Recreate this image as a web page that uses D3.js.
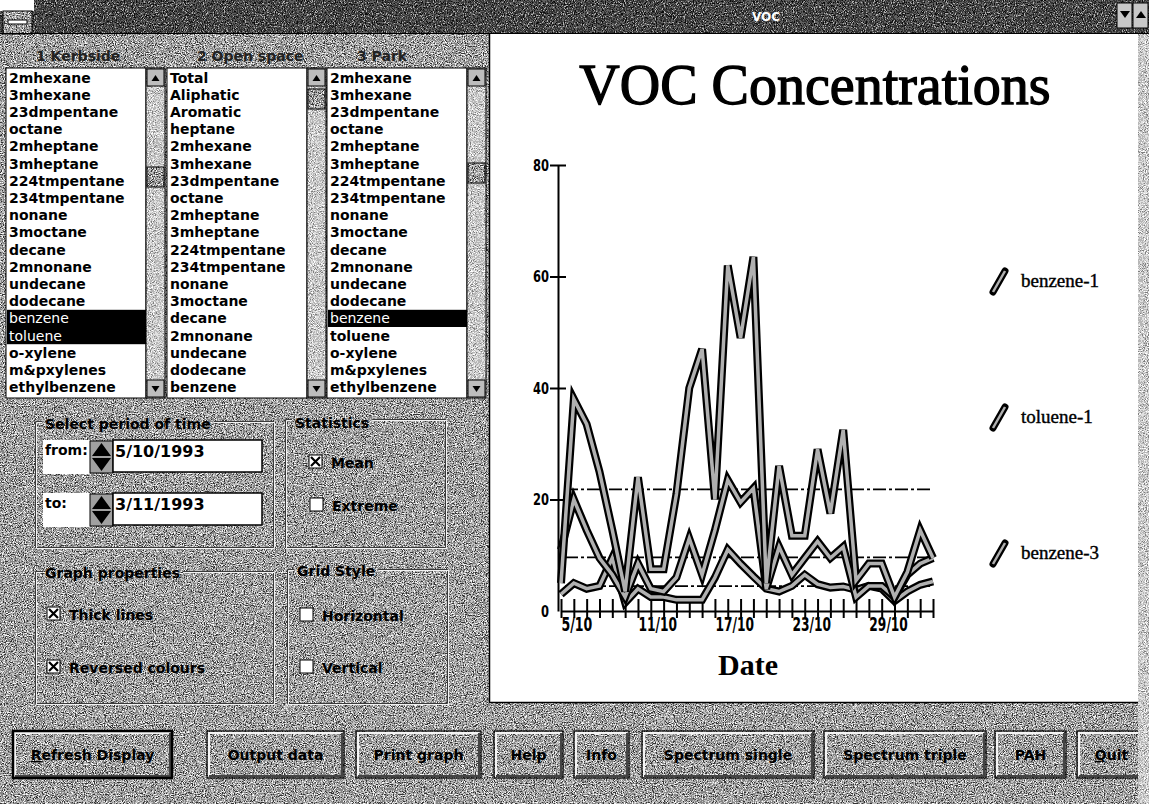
<!DOCTYPE html>
<html>
<head>
<meta charset="utf-8">
<script src="https://cdn.jsdelivr.net/npm/d3@7"></script>
<style>
  html, body { margin: 0; padding: 0; background: #a4a4a4; overflow: hidden; }
  svg { display: block; }
  .ui { font-family: "DejaVu Sans", sans-serif; font-weight: bold; font-size: 14px; fill: #000; }
</style>
</head>
<body>
<svg id="win" width="1149" height="804"></svg>
<script>
// ---- data ----
const dates = ["5/10","6/10","7/10","8/10","9/10","10/10","11/10","12/10","13/10","14/10",
               "15/10","16/10","17/10","18/10","19/10","20/10","21/10","22/10","23/10","24/10",
               "25/10","26/10","27/10","28/10","29/10","30/10","31/10","1/11","2/11","3/11"];
const dateTickLabels = ["5/10","11/10","17/10","23/10","29/10"];
const yTicks = [0, 20, 40, 60, 80];

const toluene1 = [5, 38, 33.5, 25, 14.5, 3.5, 24, 7.5, 7.5, 21, 40, 47, 20, 62, 49, 63.5, 5, 26, 13.5, 13.5,
                  29, 17.5, 32.5, 5.5, 8.5, 8.5, 2.5, 7, 14.5, 9.5];
const benzene1 = [11, 20, 14.5, 9.5, 6.5, 2.5, 8.5, 4, 3.5, 6, 13, 6.5, 14.5, 23.5, 19.5, 22, 4, 11.5, 6.5, 9.5,
                  12.5, 9.5, 11.5, 2.5, 4.5, 4.5, 2.5, 6.5, 8.5, 9.5];
const benzene3 = [3, 5, 4, 4.5, 9.5, 1.5, 4, 2.5, 2.5, 2, 2, 2, 6, 11, 8.5, 6.2, 4, 3.5, 4.5, 6.5,
                  4.8, 4.2, 4.4, 3.8, 4.5, 4, 1.8, 3.5, 4.7, 5.3];
const legendNames = ["benzene-1", "toluene-1", "benzene-3"];

const kerbsideItems = ["2mhexane","3mhexane","23dmpentane","octane","2mheptane","3mheptane","224tmpentane",
  "234tmpentane","nonane","3moctane","decane","2mnonane","undecane","dodecane","benzene","toluene",
  "o-xylene","m&pxylenes","ethylbenzene"];
const openSpaceItems = ["Total","Aliphatic","Aromatic","heptane","2mhexane","3mhexane","23dmpentane","octane",
  "2mheptane","3mheptane","224tmpentane","234tmpentane","nonane","3moctane","decane","2mnonane","undecane",
  "dodecane","benzene"];
const parkItems = ["2mhexane","3mhexane","23dmpentane","octane","2mheptane","3mheptane","224tmpentane",
  "234tmpentane","nonane","3moctane","decane","2mnonane","undecane","dodecane","benzene","toluene",
  "o-xylene","m&pxylenes","ethylbenzene"];
const siteNames = ["1 Kerbside", "2 Open space", "3 Park"];
const buttonLabels = ["Refresh Display","Output data","Print graph","Help","Info",
                      "Spectrum single","Spectrum triple","PAH","Quit"];

const svg = d3.select("#win");
const W = 1149, H = 804;
const defs = svg.append("defs");

// dithered grey like the old 16 colour screen
function dither(id, table, seed, freq) {
  const f = defs.append("filter").attr("id", id)
    .attr("x", 0).attr("y", 0).attr("width", "100%").attr("height", "100%")
    .attr("color-interpolation-filters", "sRGB");
  f.append("feTurbulence").attr("type", "fractalNoise").attr("baseFrequency", freq)
    .attr("numOctaves", 2).attr("seed", seed);
  f.append("feColorMatrix").attr("type", "matrix")
    .attr("values", "0.33 0.33 0.33 0 0 0.33 0.33 0.33 0 0 0.33 0.33 0.33 0 0 0 0 0 0 1");
  const c1 = f.append("feComponentTransfer");
  ["R","G","B"].forEach(ch => c1.append("feFunc" + ch).attr("type", "linear").attr("slope", 3).attr("intercept", -1));
  const c2 = f.append("feComponentTransfer");
  ["R","G","B"].forEach(ch => c2.append("feFunc" + ch).attr("type", "discrete").attr("tableValues", table));
}
dither("bg", "0.2 0.52 0.76 0.97", 2, 0.9);
dither("dark", "0.05 0.2 0.38 0.7", 5, 0.9);
dither("track", "0.5 0.72 0.88 1", 7, 0.95);

function ditherRect(g, x, y, w, h, id) {
  return g.append("rect").attr("x", x).attr("y", y).attr("width", w).attr("height", h)
    .attr("filter", "url(#" + id + ")");
}

// background
ditherRect(svg, 0, 0, W, H, "bg");

// ---- title bar ----
ditherRect(svg, 0, 0, W, 33, "dark");
svg.append("rect").attr("x", 0).attr("y", 0).attr("width", 34).attr("height", 11).attr("fill", "#fff");
ditherRect(svg, 3, 11, 29, 23, "bg");
svg.append("rect").attr("x", 3).attr("y", 11).attr("width", 29).attr("height", 23)
  .attr("fill", "none").attr("stroke", "#000");
svg.append("rect").attr("x", 8).attr("y", 20).attr("width", 19).attr("height", 4)
  .attr("fill", "#fff").attr("stroke", "#000");
svg.append("line").attr("x1", 0).attr("x2", W).attr("y1", 33.5).attr("y2", 33.5).attr("stroke", "#000");
svg.append("text").attr("class", "ui").attr("x", 766).attr("y", 21).attr("text-anchor", "middle")
  .style("font-size", "12px").style("fill", "#fff").text("VOC");
[[1117, "M1120 11 L1130 11 L1125 18 Z"], [1133, "M1136 18 L1146 18 L1141 11 Z"]].forEach(([bx, d]) => {
  svg.append("rect").attr("x", bx).attr("y", 3).attr("width", 15).attr("height", 25)
    .attr("fill", "#c8c8c8").attr("stroke", "#000");
  svg.append("path").attr("d", d).attr("fill", "#000");
});

const ui = svg.append("g");

// ---- list boxes ----
const listTop = 68, listBottom = 398, itemH = 17.2;
const lists = [
  { x: 6,   items: kerbsideItems,  selected: ["benzene", "toluene"], thumb: 167 },
  { x: 167, items: openSpaceItems, selected: [],                     thumb: 89 },
  { x: 327, items: parkItems,      selected: ["benzene"],            thumb: 163 }
];
const listW = 140, sbW = 19;

lists.forEach((L, k) => {
  ui.append("text").attr("class", "ui").attr("x", L.x + 30).attr("y", 61)
    .style("fill", "#222").text(siteNames[k]);

  ui.append("rect").attr("x", L.x).attr("y", listTop).attr("width", listW).attr("height", listBottom - listTop)
    .attr("fill", "#fff").attr("stroke", "#000");
  L.items.forEach((name, i) => {
    const top = listTop + 1 + i * itemH;
    const sel = L.selected.includes(name);
    if (sel) {
      ui.append("rect").attr("x", L.x + 1).attr("y", top).attr("width", listW - 1).attr("height", itemH)
        .attr("fill", "#000");
    }
    ui.append("text").attr("class", "ui").attr("x", L.x + 3).attr("y", top + 13.5)
      .style("font-weight", sel ? "normal" : "bold")
      .style("fill", sel ? "#fff" : "#000").text(name);
  });

  // scrollbar
  const sx = L.x + listW;
  ditherRect(ui, sx, listTop, sbW, listBottom - listTop, "track");
  ui.append("rect").attr("x", sx).attr("y", listTop).attr("width", sbW).attr("height", listBottom - listTop)
    .attr("fill", "none").attr("stroke", "#000");
  [[listTop, 0], [listBottom - 19, 1]].forEach(([by, down]) => {
    ui.append("rect").attr("x", sx + 1).attr("y", by + 1).attr("width", sbW - 2).attr("height", 17)
      .attr("fill", "#bdbdbd").attr("stroke", "#000");
    const cx = sx + sbW / 2, cy = by + 10;
    ui.append("path").attr("fill", "#000")
      .attr("d", down ? `M${cx - 4} ${cy - 3} L${cx + 4} ${cy - 3} L${cx} ${cy + 3} Z`
                      : `M${cx - 4} ${cy + 3} L${cx + 4} ${cy + 3} L${cx} ${cy - 3} Z`);
  });
  ditherRect(ui, sx + 1, L.thumb, sbW - 2, 20, "bg");
  ui.append("rect").attr("x", sx + 1).attr("y", L.thumb).attr("width", sbW - 2).attr("height", 20)
    .attr("fill", "none").attr("stroke", "#000");
});

// ---- group boxes ----
function groupBox(x0, y0, x1, y1, label, ly) {
  const t = ui.append("text").attr("class", "ui").attr("x", x0 + 10).attr("y", ly).text(label);
  const tw = t.node().getComputedTextLength();
  const gap0 = x0 + 7, gap1 = x0 + 13 + tw;
  [[0, "#3a3a3a"], [1, "#f2f2f2"]].forEach(([o, col]) => {
    ui.append("path").attr("fill", "none").attr("stroke", col).attr("stroke-width", 1)
      .attr("d", `M${gap0} ${y0 + o + 0.5} L${x0 + o + 0.5} ${y0 + o + 0.5} L${x0 + o + 0.5} ${y1 + o + 0.5}
                  L${x1 + o + 0.5} ${y1 + o + 0.5} L${x1 + o + 0.5} ${y0 + o + 0.5} L${gap1} ${y0 + o + 0.5}`);
  });
  t.raise();
}
groupBox(35, 421, 273, 547, "Select period of time", 429);
groupBox(285, 419, 445, 547, "Statistics", 428);
groupBox(35, 571, 273, 703, "Graph properties", 578);
groupBox(287, 569, 447, 703, "Grid Style", 576);

function dateRow(y, label, value) {
  ui.append("rect").attr("x", 43).attr("y", y).attr("width", 47).attr("height", 34).attr("fill", "#fff");
  ui.append("text").attr("class", "ui").attr("x", 45).attr("y", y + 15).text(label);
  ui.append("rect").attr("x", 90).attr("y", y + 1).attr("width", 23).attr("height", 32)
    .attr("fill", "#a0a0a0").attr("stroke", "#000");
  ui.append("path").attr("fill", "#000").attr("d",
    `M92 ${y + 16} L111 ${y + 16} L101.5 ${y + 3} Z M92 ${y + 18} L111 ${y + 18} L101.5 ${y + 31} Z`);
  ui.append("rect").attr("x", 113).attr("y", y).attr("width", 149).attr("height", 32)
    .attr("fill", "#fff").attr("stroke", "#000").attr("stroke-width", 1.5);
  ui.append("text").attr("class", "ui").attr("x", 115).attr("y", y + 17).style("font-size", "16px").text(value);
}
dateRow(440, "from:", "5/10/1993");
dateRow(493, "to:", "3/11/1993");

function checkBox(x, y, label, checked) {
  ui.append("rect").attr("x", x).attr("y", y).attr("width", 13).attr("height", 13)
    .attr("fill", "#fff").attr("stroke", "#000");
  if (checked) {
    ui.append("path").attr("stroke", "#000").attr("stroke-width", 2.2)
      .attr("d", `M${x + 2} ${y + 2} L${x + 11} ${y + 11} M${x + 11} ${y + 2} L${x + 2} ${y + 11}`);
  }
  ui.append("text").attr("class", "ui").attr("x", x + 22).attr("y", y + 13).text(label);
}
checkBox(309, 455, "Mean", true);
checkBox(310, 498, "Extreme", false);
checkBox(47, 607, "Thick lines", true);
checkBox(47, 660, "Reversed colours", true);
checkBox(300, 608, "Horizontal", false);
checkBox(300, 660, "Vertical", false);

// ---- buttons ----
const buttonX = [[13, 172], [207, 344], [356, 481], [494, 563], [574, 629], [642, 814], [824, 986], [995, 1066], [1077, 1146]];
buttonLabels.forEach((lab, i) => {
  const [x0, x1] = buttonX[i], y0 = 731, y1 = 778;
  ditherRect(ui, x0, y0, x1 - x0, y1 - y0, "bg");
  ui.append("path").attr("fill", "none").attr("stroke", "#f4f4f4").attr("stroke-width", 2)
    .attr("d", `M${x0 + 2} ${y1 - 2} L${x0 + 2} ${y0 + 2} L${x1 - 2} ${y0 + 2}`);
  ui.append("path").attr("fill", "none").attr("stroke", "#444").attr("stroke-width", 2)
    .attr("d", `M${x0 + 2} ${y1 - 2} L${x1 - 2} ${y1 - 2} L${x1 - 2} ${y0 + 2}`);
  ui.append("rect").attr("x", x0).attr("y", y0).attr("width", x1 - x0).attr("height", y1 - y0)
    .attr("fill", "none").attr("stroke", "#000").attr("stroke-width", i === 0 ? 2.5 : 1.2);
  const t = ui.append("text").attr("class", "ui").attr("x", (x0 + x1) / 2).attr("y", 760)
    .attr("text-anchor", "middle");
  if (i === 0 || i === 8) {
    t.append("tspan").style("text-decoration", "underline").text(lab[0]);
    t.append("tspan").text(lab.slice(1));
  } else {
    t.text(lab);
  }
});

// ---- chart panel ----
svg.append("rect").attr("x", 489).attr("y", 34).attr("width", 649).attr("height", 668).attr("fill", "#fff");
svg.append("path").attr("fill", "none").attr("stroke", "#000").attr("stroke-width", 1.5)
  .attr("d", "M489.5 34 L489.5 702.5 L1138 702.5");
ditherRect(svg, 1138, 34, 11, 770, "track");

const chart = svg.append("g");
chart.append("text").attr("x", 815).attr("y", 104).attr("text-anchor", "middle")
  .attr("font-family", "'Liberation Serif', 'Times New Roman', serif").attr("font-size", 56)
  .attr("stroke", "#000").attr("stroke-width", 1.3).text("VOC Concentrations");

const x = d3.scalePoint().domain(dates).range([561, 933]);
const y = d3.scaleLinear().domain([0, 80]).range([611, 165]);

// y axis
const yAxis = chart.append("g").attr("transform", "translate(558,0)")
  .call(d3.axisLeft(y).tickValues(yTicks).tickSizeOuter(0).tickSize(0).tickPadding(9));
yAxis.select(".domain").attr("stroke", "#000").attr("stroke-width", 2);
yAxis.selectAll(".tick line").attr("x1", -8).attr("x2", 8).attr("stroke", "#000").attr("stroke-width", 2)
  .filter(d => d === 0).remove();
yAxis.selectAll(".tick text")
  .attr("font-family", "'DejaVu Sans Condensed', 'DejaVu Sans', sans-serif").attr("font-weight", "bold")
  .attr("font-size", 16).attr("fill", "#000")
  .attr("textLength", d => String(d).length * 8).attr("lengthAdjust", "spacingAndGlyphs");

// x axis
const xAxis = chart.append("g").attr("transform", "translate(0,611)")
  .call(d3.axisBottom(x).tickSizeOuter(0).tickSize(0)
    .tickFormat(d => dateTickLabels.includes(d) ? d : ""));
xAxis.select(".domain").attr("stroke", "#000").attr("stroke-width", 2);
xAxis.selectAll(".tick line").attr("y1", -12).attr("y2", 7).attr("stroke", "#000").attr("stroke-width", 2);
xAxis.selectAll(".tick text")
  .attr("font-family", "'DejaVu Sans Condensed', 'DejaVu Sans', sans-serif").attr("font-weight", "bold")
  .attr("font-size", 20).attr("fill", "#000").attr("text-anchor", "start").attr("dy", 0).attr("y", 20)
  .attr("textLength", d => dateTickLabels.includes(d) ? d.length * 7.7 : null)
  .attr("lengthAdjust", "spacingAndGlyphs");

chart.append("text").attr("x", 748).attr("y", 675).attr("text-anchor", "middle")
  .attr("font-family", "'Liberation Serif', 'Times New Roman', serif").attr("font-size", 30)
  .attr("font-weight", "bold").text("Date");

const series = [
  { name: "toluene-1", values: toluene1 },
  { name: "benzene-1", values: benzene1 },
  { name: "benzene-3", values: benzene3 }
];

// mean lines (Statistics: Mean)
series.forEach(s => {
  const m = d3.mean(s.values);
  chart.append("line").attr("x1", x(dates[0]) + 4).attr("x2", x(dates[dates.length - 1]) - 2)
    .attr("y1", y(m)).attr("y2", y(m))
    .attr("stroke", "#000").attr("stroke-width", 1.8).attr("stroke-dasharray", "13,3,3,3");
});

const line = d3.line().x((d, i) => x(dates[i])).y(d => y(d));
series.slice().reverse().forEach(s => {
  chart.append("path").attr("d", line(s.values)).attr("fill", "none")
    .attr("stroke", "#000").attr("stroke-width", 8).attr("stroke-linejoin", "miter").attr("stroke-miterlimit", 4);
  chart.append("path").attr("d", line(s.values)).attr("fill", "none")
    .attr("stroke", "#b0b0b0").attr("stroke-width", 3.5).attr("stroke-linejoin", "miter").attr("stroke-miterlimit", 4);
});

// legend
const ly = d3.scalePoint().domain(legendNames).range([281, 553]);
legendNames.forEach(n => {
  const cy = ly(n);
  const seg = `M${993} ${cy + 11} L${1005} ${cy - 10}`;
  chart.append("path").attr("d", seg).attr("stroke", "#000").attr("stroke-width", 7).attr("stroke-linecap", "round");
  chart.append("path").attr("d", seg).attr("stroke", "#b0b0b0").attr("stroke-width", 2.5);
  chart.append("text").attr("x", 1021).attr("y", cy + 6)
    .attr("font-family", "'Liberation Serif', 'Times New Roman', serif").attr("font-size", 19)
    .attr("stroke", "#000").attr("stroke-width", 0.4).text(n);
});
</script>
</body>
</html>
